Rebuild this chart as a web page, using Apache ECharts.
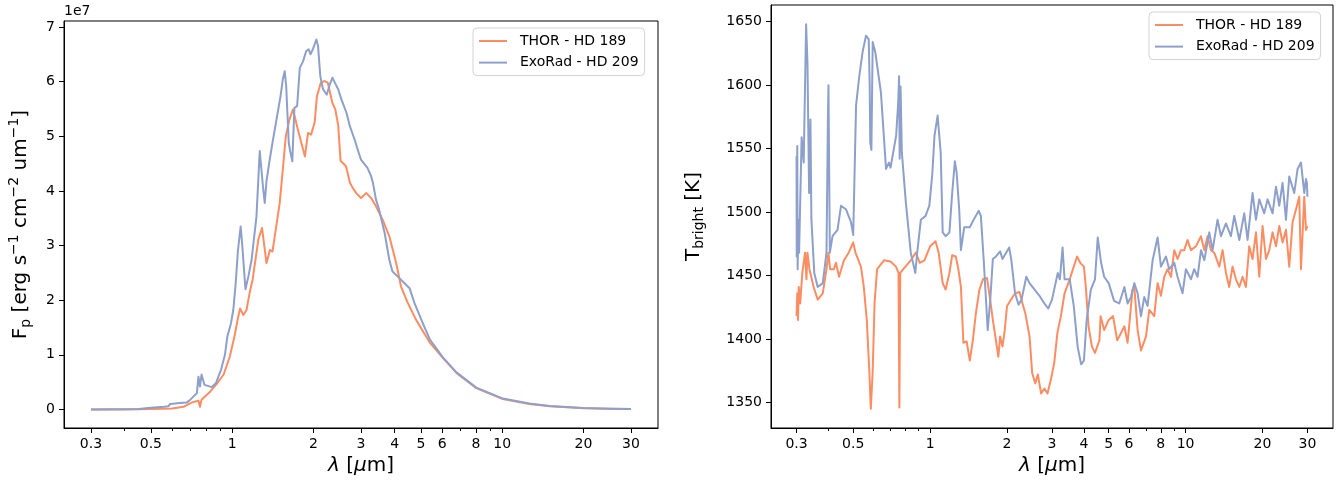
<!DOCTYPE html>
<html>
<head>
<meta charset="utf-8">
<title>Planet spectra</title>
<script src="https://cdn.jsdelivr.net/npm/echarts@6/dist/echarts.min.js"></script>
<style>
  html, body { margin: 0; padding: 0; background: #fff; }
  #chart { width: 1340px; height: 484px; }
</style>
</head>
<body>
<div id="chart"></div>
<script>
// wavelength in micron; flux in units of 1e7 erg s^-1 cm^-2 um^-1
const fluxThorWl = [0.3, 0.4, 0.5, 0.6, 0.66, 0.71, 0.75, 0.76, 0.77, 0.83, 0.88, 0.93, 0.98, 1.02, 1.05, 1.07, 1.10, 1.13, 1.16, 1.19,
  1.25, 1.29, 1.31, 1.34, 1.38, 1.41, 1.45, 1.50, 1.54, 1.58, 1.63, 1.68, 1.74, 1.79, 1.86, 1.91, 1.96, 2.02, 2.06, 2.13,
  2.20, 2.26, 2.35, 2.41, 2.47, 2.52, 2.58, 2.64, 2.73, 2.80, 2.88, 3.0, 3.14, 3.27, 3.41, 3.61, 3.82, 4.05, 4.22, 4.47,
  4.8, 5.4, 6.04, 6.77, 8.02, 10.06, 12.6, 15, 20, 25, 30];
const fluxThor = [0.0, 0.0, 0.01, 0.02, 0.05, 0.13, 0.16, 0.05, 0.18, 0.33, 0.48, 0.64, 0.97, 1.34, 1.67, 1.85, 1.73, 1.82, 2.13, 2.37,
  3.11, 3.32, 3.34, 2.68, 2.92, 2.89, 3.29, 3.78, 4.39, 5.0, 5.31, 5.49, 5.18, 4.94, 4.63, 5.06, 5.03, 5.25, 5.73, 5.98,
  6.01, 5.98, 5.61, 5.49, 5.2, 4.55, 4.5, 4.45, 4.15, 4.05, 3.96, 3.87, 3.96, 3.87, 3.72, 3.47, 3.17, 2.68, 2.25, 1.95,
  1.64, 1.22, 0.94, 0.67, 0.39, 0.19, 0.10, 0.06, 0.025, 0.012, 0.007];

const fluxExoWl = [0.3, 0.45, 0.5, 0.56, 0.58, 0.59, 0.64, 0.68, 0.70, 0.74, 0.75, 0.76, 0.77, 0.79, 0.84, 0.87, 0.91, 0.94, 0.96, 0.99,
  1.01, 1.03, 1.05, 1.075, 1.09, 1.12, 1.15, 1.18, 1.23, 1.265, 1.28, 1.30, 1.32, 1.34, 1.377, 1.41, 1.46, 1.51, 1.54, 1.565,
  1.585, 1.62, 1.64, 1.67, 1.70, 1.74, 1.78, 1.83, 1.88, 1.92, 1.95, 1.99, 2.05, 2.08, 2.12, 2.17, 2.24, 2.30, 2.35, 2.40,
  2.47, 2.54, 2.65, 2.73, 2.84, 2.95, 3.0, 3.17, 3.27, 3.32, 3.41, 3.50, 3.67, 3.82, 3.92, 4.09, 4.35, 4.54, 4.73, 5.08,
  5.4, 6.04, 6.77, 8.02, 10.06, 12.6, 15, 20, 25, 30];
const fluxExo = [0.0, 0.01, 0.03, 0.05, 0.06, 0.1, 0.12, 0.13, 0.18, 0.30, 0.6, 0.42, 0.64, 0.45, 0.41, 0.48, 0.73, 1.0, 1.34, 1.58,
  1.83, 2.3, 2.9, 3.35, 3.0, 2.2, 2.45, 2.74, 3.53, 4.73, 4.70, 4.08, 3.78, 4.18, 4.57, 4.88, 5.31, 5.73, 6.04, 6.19,
  5.92, 4.88, 4.73, 4.54, 5.52, 5.55, 6.25, 6.37, 6.56, 6.59, 6.5, 6.59, 6.77, 6.65, 6.1, 5.86, 5.76, 5.95, 6.07, 5.98,
  5.86, 5.67, 5.43, 5.18, 4.94, 4.68, 4.57, 4.42, 4.27, 4.15, 3.84, 3.66, 3.23, 2.74, 2.53, 2.44, 2.31, 2.22, 1.95, 1.58,
  1.28, 0.95, 0.68, 0.40, 0.2, 0.11, 0.065, 0.028, 0.014, 0.008];

// brightness temperature in K
const tempThorWl = [0.300, 0.302, 0.304, 0.306, 0.310, 0.316, 0.324, 0.328, 0.331, 0.337, 0.350, 0.363, 0.380, 0.393, 0.400, 0.406, 0.420, 0.428, 0.440, 0.460,
  0.480, 0.500, 0.51, 0.536, 0.55, 0.565, 0.578, 0.586, 0.596, 0.606, 0.62, 0.66, 0.70, 0.735, 0.752, 0.758, 0.764, 0.80, 0.84, 0.88,
  0.91, 0.95, 1.0, 1.05, 1.08, 1.12, 1.15, 1.19, 1.22, 1.26, 1.29, 1.32, 1.35, 1.39, 1.43, 1.47, 1.51, 1.56, 1.61, 1.67,
  1.71, 1.76, 1.80, 1.85, 1.88, 1.92, 1.96, 2.0, 2.15, 2.24, 2.30, 2.36, 2.45, 2.51, 2.58, 2.64, 2.72, 2.80, 2.88, 2.97,
  3.06, 3.15, 3.25, 3.36, 3.52, 3.65, 3.76, 3.87, 4.0, 4.07, 4.17, 4.3, 4.42, 4.6, 4.65, 4.8, 5.0, 5.2, 5.4,
  5.50, 5.76, 5.93, 6.20, 6.30, 6.49, 6.69, 7.00, 7.21, 7.54, 7.77, 8.01, 8.25, 8.50, 8.77, 9.03, 9.30, 9.59, 9.88, 10.18,
  10.50, 10.98, 11.49, 11.84, 12.19, 12.57, 12.95, 13.55, 13.96, 14.39, 14.82, 15.27, 15.75, 16.23, 16.72, 17.23, 17.75, 18.29, 18.86, 19.43,
  20.02, 20.64, 21.26, 21.91, 22.59, 23.27, 23.97, 24.72, 25.46, 26.23, 27.05, 27.86, 28.30, 29.15, 29.60, 30.0];
const tempThor = [1418, 1436, 1415, 1441, 1428, 1452, 1468, 1447, 1468, 1455, 1441, 1431, 1436, 1455, 1468, 1455, 1455, 1460, 1449, 1462,
  1468, 1476, 1468, 1457, 1441, 1415, 1375, 1345, 1375, 1428, 1455, 1462, 1461, 1457, 1452, 1346, 1452, 1457, 1462, 1468,
  1460, 1462, 1473, 1477, 1468, 1444, 1439, 1452, 1466, 1465, 1455, 1441, 1397, 1398, 1383, 1399, 1420, 1439, 1447, 1448,
  1434, 1415, 1402, 1386, 1402, 1394, 1407, 1426, 1436, 1437, 1428, 1420, 1402, 1373, 1365, 1372, 1357, 1361, 1357, 1368,
  1381, 1405, 1418, 1436, 1447, 1457, 1465, 1460, 1457, 1441, 1410, 1394, 1389, 1399, 1418, 1407, 1415, 1418, 1399,
  1402, 1410, 1397, 1439, 1441, 1407, 1391, 1402, 1423, 1418, 1444, 1434, 1449, 1455, 1449, 1470, 1463, 1470, 1470, 1478,
  1470, 1473, 1481, 1470, 1481, 1470, 1468, 1457, 1470, 1452, 1441, 1457, 1447, 1441, 1449, 1441, 1473, 1463, 1484, 1449,
  1489, 1463, 1470, 1484, 1473, 1489, 1476, 1486, 1457, 1492, 1502, 1512, 1455, 1512, 1486, 1489];

const tempExoWl = [0.300, 0.3005, 0.302, 0.303, 0.305, 0.307, 0.314, 0.320, 0.327, 0.331, 0.336, 0.340, 0.343, 0.352, 0.363, 0.380, 0.393, 0.398, 0.400, 0.405,
  0.415, 0.434, 0.448, 0.469, 0.490, 0.500, 0.513, 0.528, 0.544, 0.561, 0.575, 0.580, 0.583, 0.589, 0.596, 0.610, 0.642, 0.672, 0.690, 0.700,
  0.736, 0.750, 0.756, 0.760, 0.766, 0.775, 0.804, 0.84, 0.875, 0.89, 0.92, 0.96, 0.993, 1.02, 1.04, 1.07, 1.10, 1.12, 1.15, 1.19,
  1.22, 1.25, 1.27, 1.30, 1.32, 1.36, 1.43, 1.49, 1.55, 1.58, 1.62, 1.66, 1.68, 1.72, 1.76, 1.81, 1.88, 1.92, 2.04, 2.08,
  2.15, 2.22, 2.28, 2.38, 2.45, 2.56, 2.68, 2.8, 2.9, 3.0, 3.16, 3.22, 3.30, 3.36, 3.52, 3.65, 3.78, 3.9, 4.0, 4.1,
  4.26, 4.42, 4.53, 4.67, 4.8, 5.0, 5.25,
  5.50, 5.76, 5.93, 6.11, 6.30, 6.49, 6.69, 6.89, 7.10, 7.43, 7.77, 8.01, 8.38, 8.63, 9.03, 9.30, 9.73, 10.03, 10.50, 10.81,
  11.14, 11.49, 11.84, 12.38, 12.76, 13.34, 13.76, 14.39, 15.05, 15.51, 16.23, 16.97, 17.49, 18.29, 18.86, 19.43, 20.32, 20.94, 21.91, 22.59,
  23.27, 23.97, 24.72, 25.46, 26.63, 27.45, 28.30, 29.15, 29.60, 29.85, 30.0];
const tempExo = [1544, 1465, 1552, 1455, 1494, 1468, 1559, 1539, 1648, 1618, 1515, 1573, 1494, 1452, 1441, 1444, 1468, 1573, 1600, 1468,
  1481, 1486, 1505, 1502, 1492, 1482, 1584, 1607, 1626, 1639, 1636, 1600, 1555, 1549, 1634, 1626, 1594, 1534, 1539, 1535,
  1560, 1586, 1607, 1542, 1599, 1547, 1507, 1468, 1452, 1468, 1494, 1497, 1505, 1530, 1560, 1576, 1547, 1484, 1481, 1484,
  1515, 1540, 1531, 1502, 1470, 1488, 1488, 1495, 1501, 1497, 1463, 1426, 1407, 1431, 1463, 1465, 1469, 1463, 1472, 1462,
  1436, 1427, 1431, 1449, 1444, 1439, 1434, 1428, 1424, 1431, 1452, 1447, 1472, 1447, 1447, 1426, 1394, 1380, 1383, 1415,
  1439, 1447, 1480, 1460, 1449, 1444, 1430,
  1428, 1441, 1428, 1433, 1444, 1436, 1418, 1433, 1426, 1462, 1480, 1457, 1465, 1455, 1460, 1449, 1436, 1455, 1447, 1455,
  1449, 1470, 1462, 1484, 1470, 1494, 1481, 1491, 1481, 1497, 1478, 1499, 1478, 1515, 1494, 1510, 1499, 1510, 1499, 1520,
  1505, 1523, 1494, 1528, 1515, 1534, 1539, 1515, 1526, 1523, 1512];

const xTicks = [0.3, 0.5, 1, 2, 3, 4, 5, 6, 8, 10, 20, 30];
const xMinorTicks = [0.4, 0.6, 0.7, 0.8, 0.9, 7, 9];
const fluxTicks = [0, 1, 2, 3, 4, 5, 6, 7];
const tempTicks = [1350, 1400, 1450, 1500, 1550, 1600, 1650];

const nameThor = 'THOR - HD 189';
const nameExo = 'ExoRad - HD 209';
const orange = '#fc8d62';
const blue = '#8da0cb';
const font = 'DejaVu Sans';

const xMin = 0.3 / Math.pow(10, 0.1);
const xMax = 30 * Math.pow(10, 0.1);

const gridBoxes = [
  { left: 64, top: 21, width: 594, height: 407 },
  { left: 771, top: 5, width: 562, height: 423 }
];

function pairs(xs, ys) {
  return xs.map((x, i) => [x, ys[i]]);
}

function mainX(gi) {
  return {
    type: 'log', gridIndex: gi, position: 'bottom', min: xMin, max: xMax,
    name: '{it|λ}{n| [}{it|μ}{n|m]}',
    nameLocation: 'middle', nameGap: 28, nameMoveOverlap: false,
    nameTextStyle: {
      fontSize: 20, color: '#000', fontFamily: font,
      rich: {
        n: { fontSize: 20, color: '#000', fontFamily: font },
        it: { fontSize: 20, color: '#000', fontFamily: font, fontStyle: 'italic' }
      }
    },
    axisLine: { show: true, onZero: false, lineStyle: { color: '#000', width: 1 } },
    axisTick: { show: true, length: 5, customValues: xTicks, lineStyle: { color: '#000', width: 1 } },
    axisLabel: {
      customValues: xTicks, fontSize: 14, color: '#000', fontFamily: font, margin: 9,
      formatter: v => String(parseFloat(Number(v).toPrecision(4)))
    },
    splitLine: { show: false }
  };
}

// minor ticks live on an axis of an overlaid, invisible grid (sits on y = 0 of its hidden y axis)
function minorX(gi) {
  return {
    type: 'log', gridIndex: gi, position: 'bottom', min: xMin, max: xMax,
    axisLine: { show: false, onZero: true },
    axisTick: { show: true, length: 3, customValues: xMinorTicks, lineStyle: { color: '#000', width: 1 } },
    axisLabel: { show: false },
    splitLine: { show: false }
  };
}

function hiddenY(gi) {
  return {
    type: 'value', gridIndex: gi, min: 0, max: 1,
    axisLine: { show: false }, axisTick: { show: false }, axisLabel: { show: false }, splitLine: { show: false }
  };
}

function yAxis(gi, min, max, ticks, name, gap, rich) {
  return {
    type: 'value', gridIndex: gi, min: min, max: max,
    name: name, nameLocation: 'middle', nameGap: gap, nameRotate: 90, nameMoveOverlap: false,
    nameTextStyle: { fontSize: 20, color: '#000', fontFamily: font, rich: rich },
    axisLine: { show: true, onZero: false, lineStyle: { color: '#000', width: 1 } },
    axisTick: { show: true, length: 5, customValues: ticks, lineStyle: { color: '#000', width: 1 } },
    axisLabel: {
      customValues: ticks, fontSize: 14, color: '#000', fontFamily: font, margin: 9,
      formatter: v => String(v)
    },
    splitLine: { show: false }
  };
}

const labelRich = {
  n: { fontSize: 20, color: '#000', fontFamily: font },
  sup: { fontSize: 14, color: '#000', fontFamily: font, padding: [0, 0, 14, 0] },
  sub: { fontSize: 14, color: '#000', fontFamily: font, padding: [10, 0, 0, 0] }
};

function legend(left, top) {
  return {
    data: [nameThor, nameExo], left: left, top: top, orient: 'vertical',
    icon: 'rect', itemWidth: 28, itemHeight: 2, itemGap: 7.6, padding: [6, 6, 6, 6],
    borderColor: '#d3d3d3', borderWidth: 1, borderRadius: 4,
    backgroundColor: 'rgba(255,255,255,0.8)', selectedMode: false,
    textStyle: { fontSize: 14, lineHeight: 14, color: '#000', fontFamily: font, padding: [0, 0, 0, 8] }
  };
}

function line(name, color, xi, yi, data) {
  return {
    name: name, type: 'line', xAxisIndex: xi, yAxisIndex: yi, data: data,
    showSymbol: false, symbol: 'none',
    lineStyle: { color: color, width: 2, join: 'round' },
    itemStyle: { color: color }
  };
}

const chart = echarts.init(document.getElementById('chart'));
chart.setOption({
  animation: false,
  textStyle: { fontFamily: font },
  title: {
    text: '1e7', left: 64, top: 4, padding: 0,
    textStyle: { fontSize: 14, fontWeight: 'normal', color: '#000', fontFamily: font }
  },
  legend: [legend(473, 28), legend(1149, 12)],
  grid: [
    Object.assign({ show: true, borderColor: '#000', borderWidth: 1, containLabel: false, outerBoundsMode: 'none' }, gridBoxes[0]),
    Object.assign({ show: true, borderColor: '#000', borderWidth: 1, containLabel: false, outerBoundsMode: 'none' }, gridBoxes[1]),
    Object.assign({ show: false, containLabel: false, outerBoundsMode: 'none' }, gridBoxes[0]),
    Object.assign({ show: false, containLabel: false, outerBoundsMode: 'none' }, gridBoxes[1])
  ],
  xAxis: [mainX(0), mainX(1), minorX(2), minorX(3)],
  yAxis: [
    yAxis(0, -0.3385, 7.1085, fluxTicks,
      '{n|F}{sub|p}{n| [erg s}{sup|−1}{n| cm}{sup|−2}{n| um}{sup|−1}{n|]}', 29, labelRich),
    yAxis(1, 1329.85, 1663.15, tempTicks, '{n|T}{sub|bright}{n| [K]}', 65, labelRich),
    hiddenY(2),
    hiddenY(3)
  ],
  series: [
    line(nameThor, orange, 0, 0, pairs(fluxThorWl, fluxThor)),
    line(nameExo, blue, 0, 0, pairs(fluxExoWl, fluxExo)),
    line(nameThor, orange, 1, 1, pairs(tempThorWl, tempThor)),
    line(nameExo, blue, 1, 1, pairs(tempExoWl, tempExo))
  ]
});
</script>
</body>
</html>
